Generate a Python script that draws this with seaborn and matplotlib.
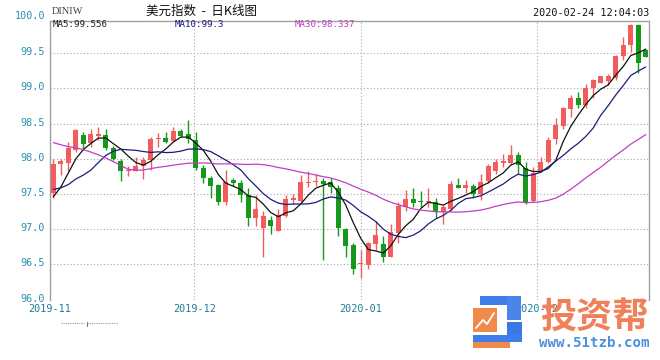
import numpy as np
import pandas as pd
import matplotlib
matplotlib.use("Agg")
import matplotlib.pyplot as plt
import matplotlib.transforms as mtransforms
from matplotlib.patches import Rectangle
from matplotlib.lines import Line2D
import seaborn as sns

# ---------------- data ----------------
opens = [97.51, 97.92, 97.94, 98.13, 98.34, 98.22, 98.33, 98.34, 98.15, 97.97,
         97.82, 97.83, 97.90, 97.98, 98.28, 98.29, 98.25, 98.39, 98.35, 98.27,
         97.87, 97.72, 97.63, 97.39, 97.70, 97.66, 97.49, 97.16, 97.01, 97.13,
         96.98, 97.19, 97.42, 97.40, 97.65, 97.665, 97.685, 97.675, 97.59, 97.00,
         96.78, 96.50, 96.49, 96.79, 96.79, 96.61, 96.95, 97.31, 97.43, 97.405,
         97.38, 97.39, 97.24, 97.29, 97.63, 97.59, 97.61, 97.50, 97.68, 97.83,
         97.94, 97.94, 98.05, 97.865, 97.405, 97.82, 97.96, 98.28, 98.47, 98.70,
         98.86, 98.76, 99.00, 99.08, 99.105, 99.15, 99.46, 99.62, 99.90, 99.545]
highs = [98.00, 97.99, 98.24, 98.42, 98.38, 98.42, 98.45, 98.42, 98.18, 98.00,
         97.90, 98.02, 98.03, 98.31, 98.37, 98.38, 98.45, 98.43, 98.55, 98.38,
         97.91, 97.75, 97.64, 97.84, 97.73, 97.70, 97.59, 97.49, 97.26, 97.19,
         97.28, 97.48, 97.50, 97.77, 97.82, 97.79, 97.73, 97.72, 97.63, 97.02,
         96.80, 96.70, 96.82, 97.12, 96.90, 97.08, 97.39, 97.56, 97.58, 97.54,
         97.58, 97.45, 97.34, 97.68, 97.73, 97.70, 97.64, 97.79, 97.92, 97.99,
         98.07, 98.20, 98.09, 97.96, 97.89, 98.02, 98.31, 98.58, 98.74, 98.91,
         98.95, 99.06, 99.13, 99.18, 99.20, 99.48, 99.73, 99.91, 99.91, 99.56]
lows = [97.45, 97.77, 97.82, 98.09, 98.13, 98.17, 98.27, 98.12, 97.98, 97.68,
        97.75, 97.82, 97.71, 97.84, 98.17, 98.22, 98.24, 98.31, 98.22, 97.84,
        97.65, 97.44, 97.34, 97.34, 97.62, 97.39, 97.04, 97.04, 96.61, 96.93,
        96.98, 97.17, 97.36, 97.37, 97.60, 97.62, 96.56, 97.51, 96.90, 96.61,
        96.36, 96.30, 96.43, 96.70, 96.54, 96.60, 96.80, 97.26, 97.31, 97.31,
        97.31, 97.155, 97.08, 97.26, 97.58, 97.51, 97.44, 97.415, 97.66, 97.79,
        97.89, 97.93, 97.79, 97.36, 97.39, 97.81, 97.94, 98.21, 98.43, 98.60,
        98.72, 98.72, 98.86, 99.07, 99.05, 99.12, 99.40, 99.52, 99.22, 99.44]
closes = [97.92, 97.97, 98.15, 98.41, 98.21, 98.35, 98.35, 98.16, 98.00, 97.83,
          97.84, 97.90, 97.98, 98.28, 98.30, 98.24, 98.39, 98.33, 98.28, 97.87,
          97.73, 97.61, 97.39, 97.67, 97.65, 97.49, 97.16, 97.29, 97.19, 97.05,
          97.20, 97.43, 97.44, 97.675, 97.675, 97.69, 97.64, 97.60, 97.02, 96.76,
          96.44, 96.525, 96.81, 96.92, 96.61, 96.96, 97.33, 97.43, 97.37, 97.38,
          97.40, 97.25, 97.31, 97.64, 97.59, 97.63, 97.50, 97.675, 97.90, 97.95,
          97.97, 98.05, 97.91, 97.37, 97.80, 97.96, 98.27, 98.48, 98.72, 98.87,
          98.77, 99.01, 99.12, 99.17, 99.18, 99.46, 99.62, 99.90, 99.36, 99.45]
# closes before the visible window (off-chart), estimated from where the MA lines start
prior_closes = [98.90, 98.95, 98.90, 98.99, 99.40, 99.50, 99.55, 99.50, 99.48, 99.50,
                98.20, 97.98, 97.65, 97.73, 97.85, 97.88, 97.90, 97.88, 97.80, 97.70,
                97.75, 97.68, 97.62, 97.65, 97.65, 97.27, 97.15, 97.41, 97.55]

month_labels = ["2019-11", "2019-12", "2020-01", "2020-02"]
month_pos = [-0.45, 18.8, 41.0, 64.5]
y_ticks = [96.0, 96.5, 97.0, 97.5, 98.0, 98.5, 99.0, 99.5]
ma_windows = [5, 10, 30]
ma_texts = ["MA5:99.556", "MA10:99.3", "MA30:98.337"]
title_text = "美元指数  -  日K线图"
code_text = "DINIW"
time_text = "2020-02-24 12:04:03"

# ---------------- style ----------------
sns.set_theme(style="white")
plt.rcParams['font.family'] = ['DejaVu Sans Mono', 'Noto Sans CJK SC']

RED = "#f25c5c"
GREEN = "#16991b"
MA_COLORS = {"MA5": "#111111", "MA10": "#1c1c7a", "MA30": "#c23ec2"}

W, H = 660, 360
fig = plt.figure(figsize=(6.6, 3.6), dpi=100)
fig.patch.set_facecolor("white")
ax_left, ax_right, ax_top, ax_bot = 50, 649, 20.5, 299.6
ax = fig.add_axes([ax_left / W, 1 - ax_bot / H, (ax_right - ax_left) / W, (ax_bot - ax_top) / H])
ax.set_facecolor("white")

o = np.array(opens); h = np.array(highs); l = np.array(lows); c = np.array(closes)
n = len(c)
x = np.arange(n)
up = c >= o
cols = np.where(up, RED, GREEN)

# wicks & bodies
ax.vlines(x, l, h, colors=cols, lw=1.0, zorder=3)
body_bot = np.minimum(o, c)
body_h = np.maximum(np.abs(c - o), 0.014)
ax.bar(x, body_h, bottom=body_bot, width=0.66, color=cols, linewidth=0, zorder=4)

# moving averages
full = pd.Series(list(prior_closes) + list(closes))
npre = len(prior_closes)
ma_df = pd.DataFrame({"idx": x})
for w in ma_windows:
    ma_df[f"MA{w}"] = full.rolling(w).mean().iloc[npre:].values
long_df = ma_df.melt(id_vars="idx", var_name="line", value_name="value")
sns.lineplot(data=long_df, x="idx", y="value", hue="line", palette=MA_COLORS,
             linewidth=0.9, legend=False, ax=ax, zorder=5)

# axes / grid
ax.set_xlim(-0.44, 79.44)
ax.set_ylim(96.0, 99.964)
ax.set_yticks(y_ticks)
ax.set_yticklabels([f"{v:.1f}" for v in y_ticks])
ax.set_xticks(month_pos)
ax.set_xticklabels(month_labels)
ax.set_xlabel("")
ax.set_ylabel("")
ax.grid(True, color="#a8a8a8", linestyle=(0, (1, 2)), linewidth=0.8)
ax.set_axisbelow(True)
ax.tick_params(axis="y", length=0, pad=4, labelsize=7.3, labelcolor="#2e8fb0")
ax.tick_params(axis="x", length=0, pad=3.4, labelsize=7.3, labelcolor="#1f7d96")
for side in ["left", "top", "right"]:
    ax.spines[side].set_color("#a0a0a0")
    ax.spines[side].set_linewidth(1.0)
ax.spines["bottom"].set_visible(False)

# y labels sit slightly above their grid lines
up_off = mtransforms.ScaledTranslation(0, 2.0 / 100, fig.dpi_scale_trans)
for lab in ax.get_yticklabels():
    lab.set_transform(lab.get_transform() + up_off)

trans = mtransforms.blended_transform_factory(ax.transAxes, ax.transData)
ax.text(-0.008, 100.0, "100.0", transform=trans + up_off, ha="right", va="center",
        fontsize=7.3, color="#2e8fb0", clip_on=False)

def fx(px):
    return px / W

def fy(py):
    return 1 - py / H

# header texts
fig.text(fx(52), fy(12), code_text, family="Liberation Serif", fontsize=7.5,
         color="#444444", ha="left", va="center")
fig.text(fx(201), fy(11.5), title_text, family=["Noto Sans CJK SC", "DejaVu Sans"],
         fontsize=9, color="#111111", ha="center", va="center")
fig.text(fx(649), fy(12.5), time_text, fontsize=7.3, color="#111111", ha="right", va="center")
for txt, px, col in zip(ma_texts, [53, 175, 295], ["#222222", "#1c1c80", "#c23ec2"]):
    fig.text(fx(px), fy(24.5), txt, fontsize=6.6, color=col, ha="left", va="center")

# small scroll indicator
fig.add_artist(Line2D([fx(61), fx(84)], [fy(323), fy(323)], color="#999999", lw=0.8, ls=(0, (1, 1))))
fig.add_artist(Line2D([fx(87), fx(118)], [fy(323), fy(323)], color="#999999", lw=0.8, ls=(0, (1, 1))))
fig.add_artist(Line2D([fx(86.5), fx(86.5)], [fy(322), fy(326)], color="#777777", lw=0.8))

# watermark logo
def prect(x0, y0, x1, y1, color):
    fig.add_artist(Rectangle((fx(x0), fy(y1)), fx(x1) - fx(x0), fy(y0) - fy(y1),
                             transform=fig.transFigure, color=color, lw=0, zorder=10))

BLUE = "#3f7ee8"
ORANGE = "#f08a4b"
prect(480, 296, 520, 305, BLUE)
prect(507, 296, 521, 320, "#4a86ea")
prect(507, 322, 522, 342, "#3a78e4")
prect(473, 335, 522, 342, BLUE)
prect(473, 342, 510, 348, ORANGE)
prect(473, 308, 497, 332, ORANGE)
fig.add_artist(Line2D([fx(476), fx(483), fx(487), fx(494)], [fy(328), fy(320), fy(324), fy(313)],
                      color="white", lw=1.3, zorder=11))
fig.text(fx(594), fy(318), "投资帮", family=["Noto Sans CJK SC", "DejaVu Sans"], fontsize=26,
         fontweight="bold", color="#f0805a", ha="center", va="center", zorder=10)
fig.text(fx(594), fy(343), "www.51tzb.com", fontsize=10.2, fontweight="bold",
         color="#4d8fe0", ha="center", va="center", zorder=10)

fig.savefig("out.png", dpi=100, facecolor="white")
